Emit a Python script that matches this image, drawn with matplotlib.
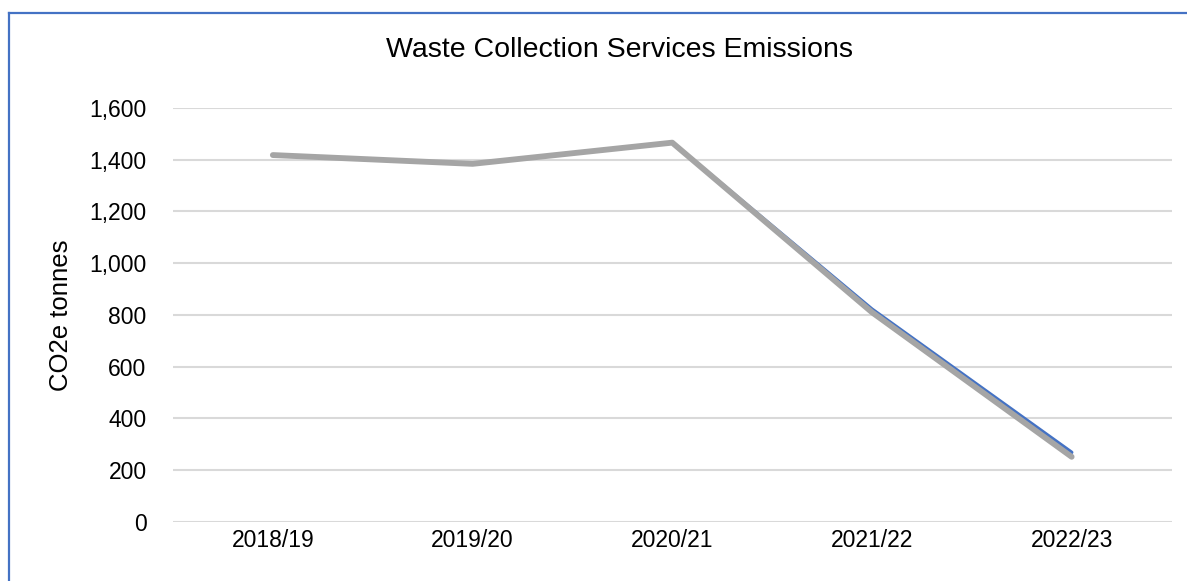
import matplotlib
matplotlib.use("Agg")
import matplotlib.pyplot as plt
from matplotlib.lines import Line2D

plt.rcParams["font.family"] = ["Liberation Sans", "DejaVu Sans"]

years = ["2018/19", "2019/20", "2020/21", "2021/22", "2022/23"]
series_blue = [1418, 1384, 1466, 822, 268]
series_gray = [1418, 1384, 1466, 810, 251]
y_ticks = [0, 200, 400, 600, 800, 1000, 1200, 1400, 1600]

W, H = 1187, 581
fig = plt.figure(figsize=(W / 100, H / 100), dpi=100)
ax = fig.add_axes([173 / W, 1 - 521.7 / H, (1171.5 - 173) / W, (521.7 - 108) / H])

x = list(range(len(years)))
ax.plot(x, series_blue, color="#4472C4", lw=2.6, solid_capstyle="round", zorder=3)
ax.plot(x, series_gray, color="#A5A5A5", lw=4.2, solid_capstyle="round",
        solid_joinstyle="round", zorder=4)

ax.set_xlim(-0.5, len(years) - 0.5)
ax.set_ylim(0, 1600)
ax.set_yticks(y_ticks)
ax.set_yticklabels([f"{v:,}" for v in y_ticks], fontsize=16.5)
ax.set_xticks(x)
ax.set_xticklabels(years, fontsize=16.5)
ax.tick_params(length=0, pad=19)
ax.tick_params(axis="x", pad=5)
ax.grid(axis="y", color="#D9D9D9", lw=1.5)
ax.set_axisbelow(True)
for s in ax.spines.values():
    s.set_visible(False)

ax.set_ylabel("CO2e tonnes", fontsize=18.5, labelpad=12)
fig.text(620 / W, 1 - 50 / H, "Waste Collection Services Emissions",
         ha="center", va="center", fontsize=20.5)

# chart border (only left and top are inside the picture)
fig.add_artist(Line2D([9.5 / W, 9.5 / W], [0, 1 - 13 / H], color="#4472C4", lw=1.6))
fig.add_artist(Line2D([9.5 / W, 1], [1 - 13 / H, 1 - 13 / H], color="#4472C4", lw=1.6))

fig.savefig("out.png", dpi=100)
